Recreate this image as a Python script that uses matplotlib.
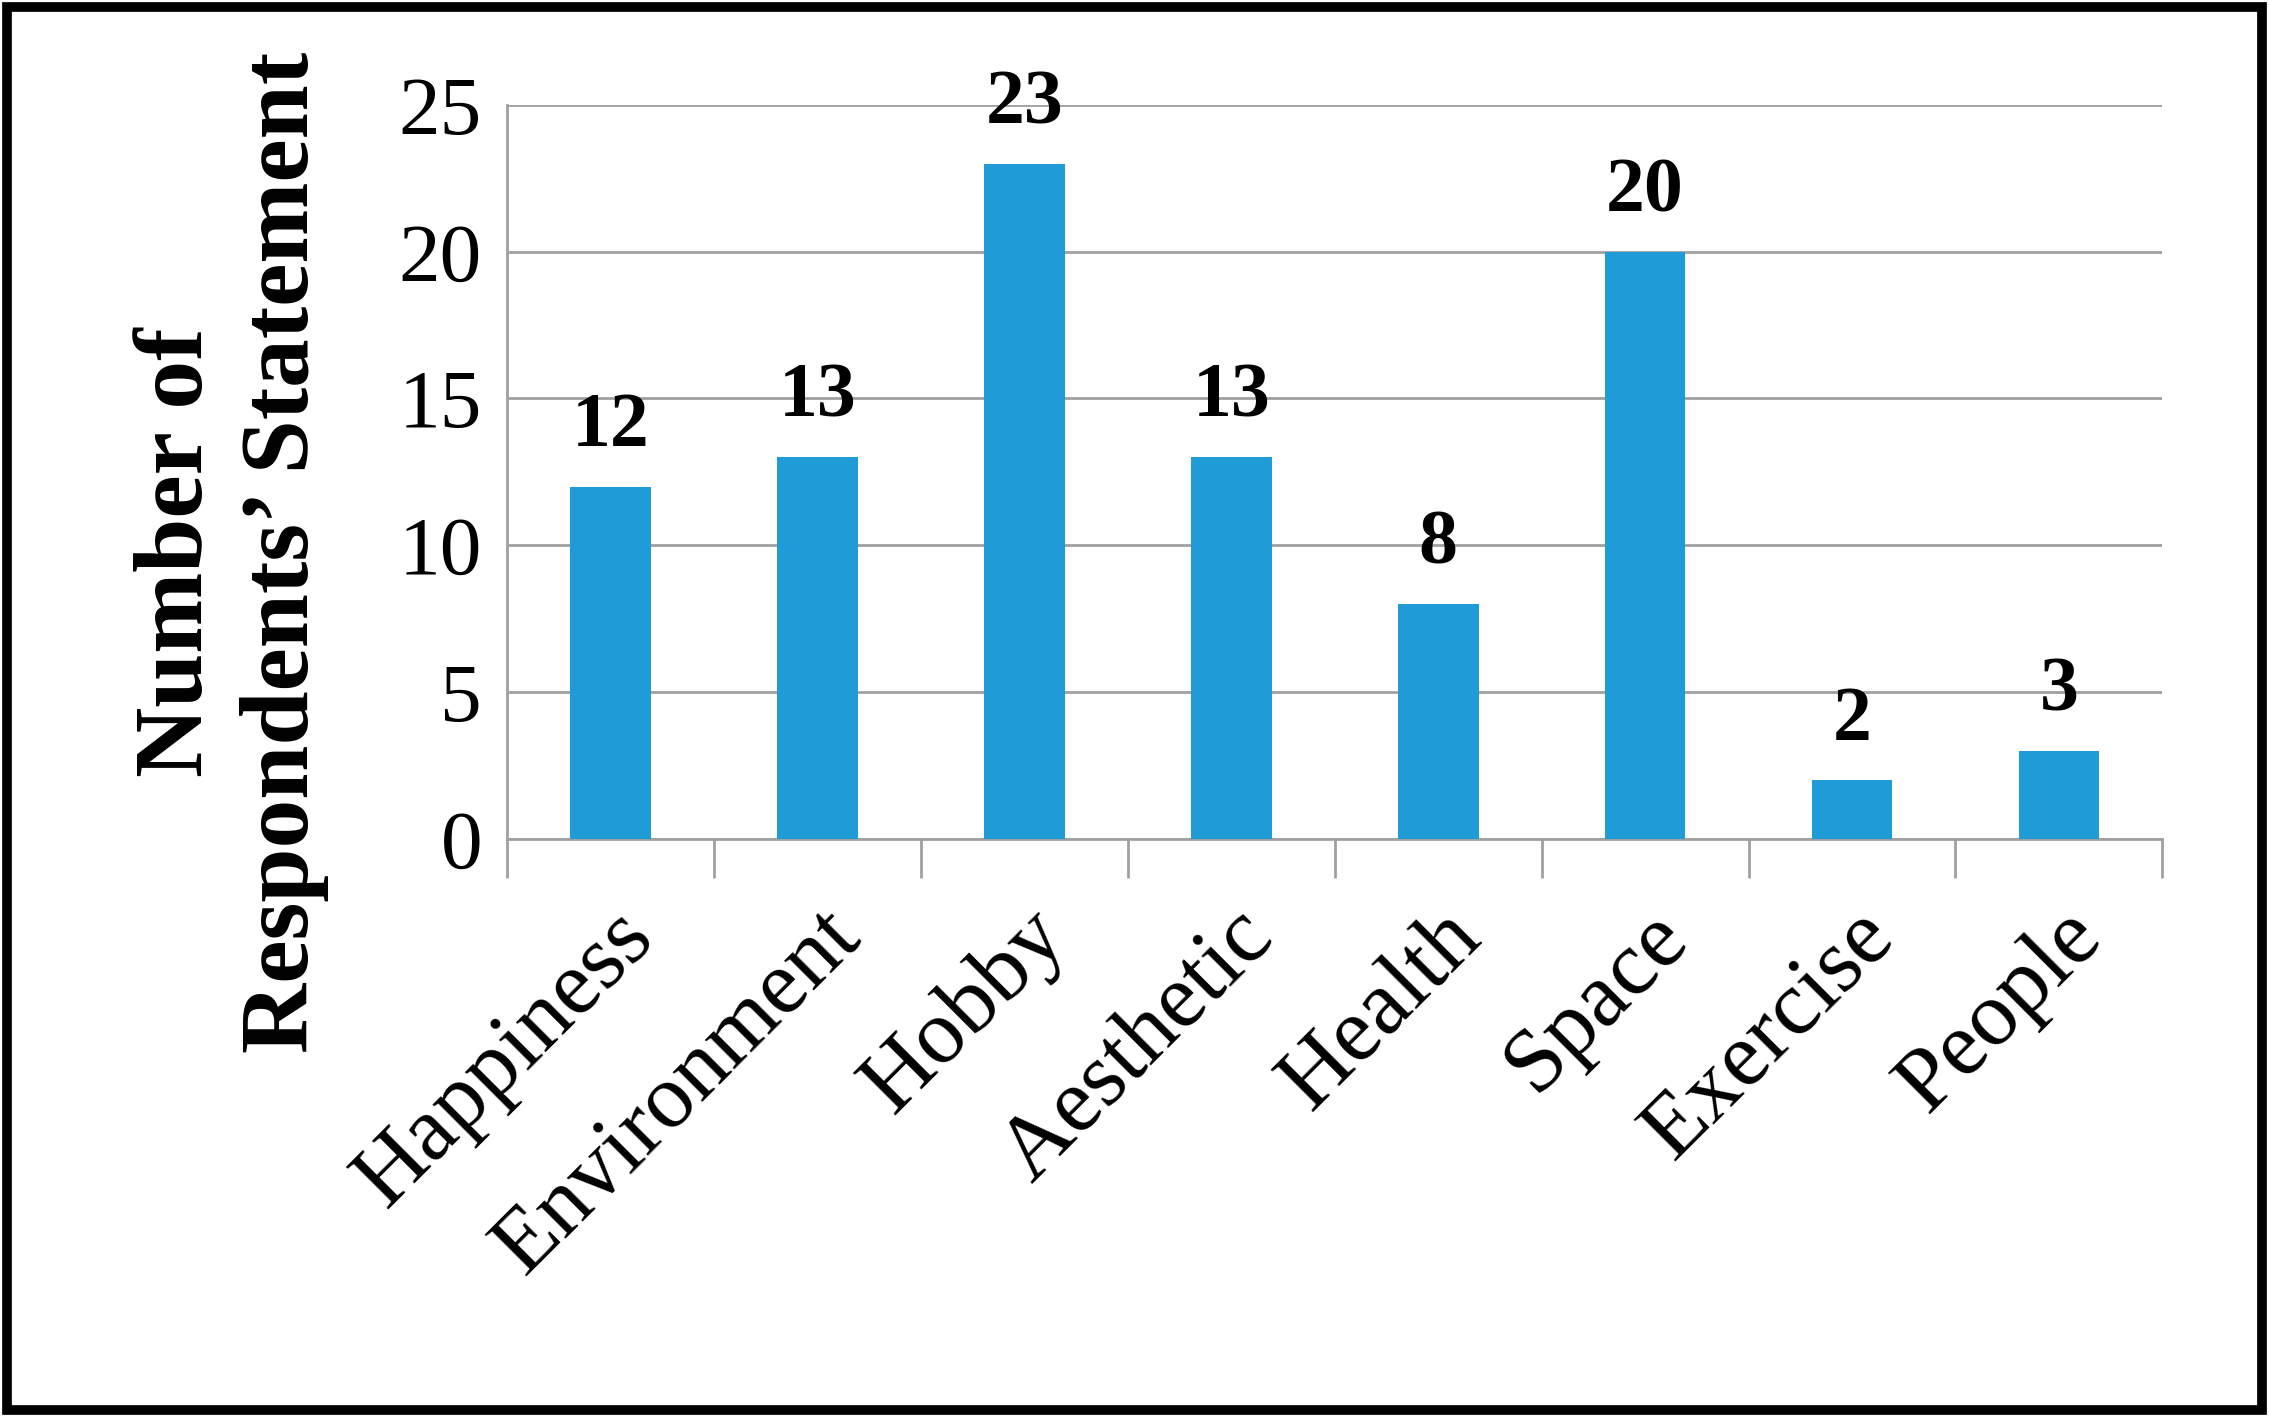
import matplotlib.pyplot as plt
from matplotlib.patches import Rectangle

categories = ['Happiness', 'Environment', 'Hobby', 'Aesthetic', 'Health', 'Space', 'Exercise', 'People']
counts = [12, 13, 23, 13, 8, 20, 2, 3]

plt.rcParams['font.family'] = ['Liberation Serif', 'DejaVu Serif']

fig = plt.figure(figsize=(22.69, 14.17), dpi=100)
ax = fig.add_axes([0.2235, 0.408, 0.7295, 0.518])

x = range(len(categories))
ax.bar(x, counts, width=0.39, color='#1f9bd7', zorder=3)
for i, v in enumerate(counts):
    ax.text(i, v + 0.8, str(v), ha='center', va='bottom', fontsize=56, fontweight='bold')

ax.set_xlim(-0.5, len(categories) - 0.5)
ax.set_ylim(0, 25)
ax.set_yticks(range(0, 26, 5))
ax.tick_params(axis='y', labelsize=60, length=0, pad=18)
ax.yaxis.grid(True, color='#a0a0a0', linewidth=2, zorder=0)

ax.set_xticks(list(x))
ax.set_xticklabels(categories, rotation=45, ha='right', rotation_mode='anchor', fontsize=66)
ax.tick_params(axis='x', length=0, pad=40)
ax.set_xticks([i - 0.5 for i in range(len(categories) + 1)], minor=True)
ax.tick_params(axis='x', which='minor', length=28, width=2, color='#a0a0a0')

for s in ['top', 'right']:
    ax.spines[s].set_visible(False)
ax.spines['left'].set_color('#a0a0a0')
ax.spines['bottom'].set_color('#a0a0a0')
ax.spines['left'].set_linewidth(2)
ax.spines['bottom'].set_linewidth(2)

fig.text(0.102, 0.61, "Number of\nRespondents\u2019 Statement", rotation=90, ha='center', va='center',
         fontsize=70, fontweight='bold', linespacing=1.25)

fig.patches.append(Rectangle((0.003, 0.005), 0.994, 0.99, transform=fig.transFigure,
                             fill=False, edgecolor='black', linewidth=7))

fig.savefig('out.png', dpi=100)
